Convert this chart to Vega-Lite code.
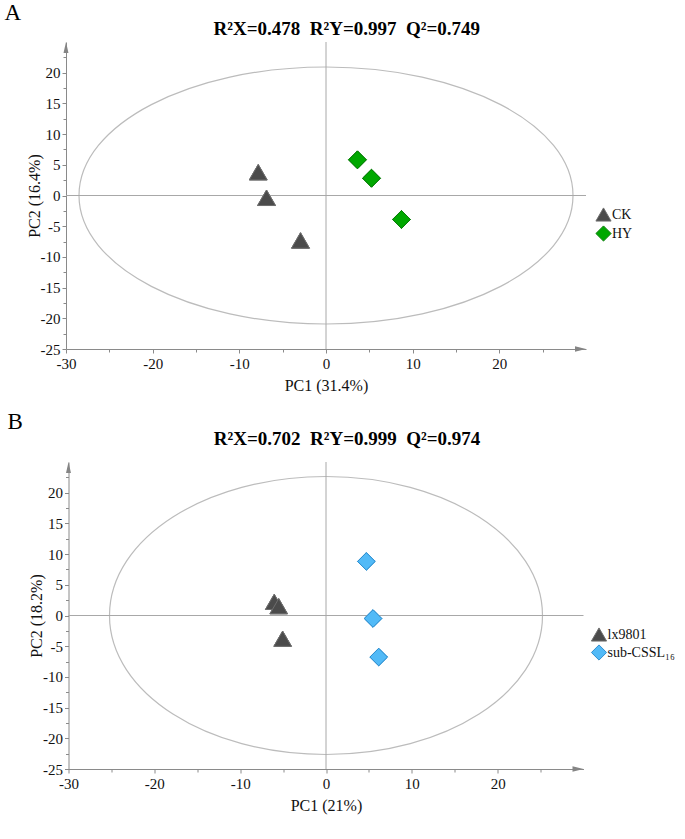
{
  "$schema": "https://vega.github.io/schema/vega-lite/v6.json",
  "background": "white",
  "padding": {"left": 4, "top": 1, "right": 5, "bottom": 5},
  "datasets": {
    "a": [
      {"group": "CK", "pc1": -7.82, "pc2": 3.79},
      {"group": "CK", "pc1": -6.86, "pc2": -0.37},
      {"group": "CK", "pc1": -2.94, "pc2": -7.32},
      {"group": "HY", "pc1": 3.63, "pc2": 5.81},
      {"group": "HY", "pc1": 5.25, "pc2": 2.81},
      {"group": "HY", "pc1": 8.71, "pc2": -3.9}
    ],
    "b": [
      {"group": "lx9801", "pc1": -6.03, "pc2": 2.22},
      {"group": "lx9801", "pc1": -5.51, "pc2": 1.51},
      {"group": "lx9801", "pc1": -5.05, "pc2": -3.78},
      {"group": "sub-CSSL₁₆", "pc1": 4.7, "pc2": 8.81},
      {"group": "sub-CSSL₁₆", "pc1": 5.48, "pc2": -0.49},
      {"group": "sub-CSSL₁₆", "pc1": 6.14, "pc2": -6.77}
    ]
  },
  "bounds": "flush",
  "center": true,
  "spacing": 113,
  "vconcat": [
    {
      "width": 520,
      "height": 307,
      "layer": [
        {
          "data": {"name": "a"},
          "mark": {"type": "point", "filled": true, "opacity": 1, "size": 320, "strokeWidth": 1},
          "encoding": {
            "x": {"field": "pc1", "type": "quantitative", "scale": {"domain": [-30, 30], "nice": false, "zero": false},
              "axis": {"title": "PC1 (31.4%)", "values": [-30, -25, -20, -15, -10, -5, 0, 5, 10, 15, 20, 25], "tickCount": 30, "labelExpr": "datum.value % 10 == 0 ? '' + datum.value : ''", "grid": false, "domainColor": "#8a8a8a", "tickColor": "#8a8a8a", "tickSize": {"condition": {"test": "datum.value % 10 == 0", "value": 4}, "value": 3}, "labelFont": "Liberation Serif", "labelFontSize": 15, "labelColor": "#111111", "labelPadding": 3, "labelFlush": false, "labelOverlap": false, "titleFont": "Liberation Serif", "titleFontSize": 16, "titleFontWeight": "normal", "titleColor": "#111111", "titlePadding": 6}},
            "y": {"field": "pc2", "type": "quantitative", "scale": {"domain": [-25, 25], "nice": false, "zero": false},
              "axis": {"title": "PC2 (16.4%)", "values": [-25, -22.5, -20, -17.5, -15, -12.5, -10, -7.5, -5, -2.5, 0, 2.5, 5, 7.5, 10, 12.5, 15, 17.5, 20, 22.5], "tickCount": 30, "labelExpr": "datum.value % 5 == 0 ? '' + datum.value : ''", "grid": false, "domainColor": "#8a8a8a", "tickColor": "#8a8a8a", "tickSize": {"condition": {"test": "datum.value % 5 == 0", "value": 4}, "value": 3}, "labelFont": "Liberation Serif", "labelFontSize": 15, "labelColor": "#111111", "labelPadding": 2, "labelFlush": false, "labelOverlap": false, "titleFont": "Liberation Serif", "titleFontSize": 16, "titleFontWeight": "normal", "titleColor": "#111111", "titlePadding": -2}},
            "shape": {"field": "group", "type": "nominal", "scale": {"domain": ["CK", "HY"], "range": ["triangle-up", "diamond"]},
              "legend": {"orient": "none", "legendX": 529, "legendY": 164, "title": null, "direction": "vertical", "padding": 0, "labelFont": "Liberation Serif", "labelFontSize": 14, "labelColor": "#111111", "symbolSize": 230, "symbolStrokeWidth": 1, "rowPadding": -1, "labelOffset": 0}},
            "fill": {"field": "group", "type": "nominal", "scale": {"domain": ["CK", "HY"], "range": ["#4b4b4b", "#00a800"]},
              "legend": {"orient": "none", "legendX": 529, "legendY": 164, "title": null, "direction": "vertical", "padding": 0, "labelFont": "Liberation Serif", "labelFontSize": 14, "labelColor": "#111111", "symbolSize": 230, "symbolStrokeWidth": 1, "rowPadding": -1, "labelOffset": 0}},
            "stroke": {"field": "group", "type": "nominal", "scale": {"domain": ["CK", "HY"], "range": ["#6e6e6e", "#0a7d0a"]},
              "legend": {"orient": "none", "legendX": 529, "legendY": 164, "title": null, "direction": "vertical", "padding": 0, "labelFont": "Liberation Serif", "labelFontSize": 14, "labelColor": "#111111", "symbolSize": 230, "symbolStrokeWidth": 1, "rowPadding": -1, "labelOffset": 0}}
          }
        },
        {
          "data": {"values": [{}]},
          "mark": {"type": "point", "shape": "M-1,0C-1,-0.2873,-0.5523,-0.5202,0,-0.5202C0.5523,-0.5202,1,-0.2873,1,0C1,0.2873,0.5523,0.5202,0,0.5202C-0.5523,0.5202,-1,0.2873,-1,0Z", "size": 244036, "filled": false, "stroke": "#bcbcbc", "strokeWidth": 1.2, "opacity": 1},
          "encoding": {
            "x": {"datum": 0, "type": "quantitative"},
            "y": {"datum": 0, "type": "quantitative"}
          }
        },
        {
          "data": {"values": [{}]},
          "mark": {"type": "rule", "color": "#a8a8a8", "strokeWidth": 1},
          "encoding": {"x": {"datum": 0, "type": "quantitative"}}
        },
        {
          "data": {"values": [{}]},
          "mark": {"type": "rule", "color": "#a8a8a8", "strokeWidth": 1},
          "encoding": {"y": {"datum": 0, "type": "quantitative"}}
        },
        {
          "data": {"name": "a"},
          "mark": {"type": "point", "filled": true, "opacity": 1, "size": 320, "strokeWidth": 1},
          "encoding": {
            "x": {"field": "pc1", "type": "quantitative"},
            "y": {"field": "pc2", "type": "quantitative"},
            "shape": {"field": "group", "type": "nominal"},
            "fill": {"field": "group", "type": "nominal"},
            "stroke": {"field": "group", "type": "nominal"}
          }
        },
        {
          "data": {"values": [{}]},
          "mark": {"type": "point", "shape": "M0,0L-2,-0.5L-2,0.5Z", "size": 121, "filled": true, "fill": "#858585", "strokeWidth": 0, "opacity": 1},
          "encoding": {
            "x": {"datum": 30, "type": "quantitative"},
            "y": {"datum": -25, "type": "quantitative"}
          }
        },
        {
          "data": {"values": [{}]},
          "mark": {"type": "point", "shape": "M0,0L-0.45,2L0.45,2Z", "size": 121, "filled": true, "fill": "#858585", "strokeWidth": 0, "opacity": 1},
          "encoding": {
            "x": {"datum": -30, "type": "quantitative"},
            "y": {"datum": 25, "type": "quantitative"}
          }
        },
        {
          "data": {"values": [{}]},
          "mark": {"type": "text", "text": "A", "font": "Liberation Serif", "fontSize": 23, "align": "left", "baseline": "alphabetic", "color": "#000000"},
          "encoding": {
            "x": {"datum": -37.1, "type": "quantitative"},
            "y": {"datum": 28.6, "type": "quantitative"}
          }
        },
        {
          "data": {"values": [{}]},
          "mark": {"type": "text", "text": "R²X=0.478 \u00a0R²Y=0.997 \u00a0Q²=0.749", "font": "Liberation Serif", "fontSize": 19, "fontWeight": "bold", "align": "center", "baseline": "alphabetic", "color": "#000000"},
          "encoding": {
            "x": {"datum": 2.4, "type": "quantitative"},
            "y": {"datum": 26.14, "type": "quantitative"}
          }
        }
      ]
    },
    {
      "width": 515,
      "height": 307,
      "layer": [
        {
          "data": {"name": "b"},
          "mark": {"type": "point", "filled": true, "opacity": 1, "size": 310, "strokeWidth": 1},
          "encoding": {
            "x": {"field": "pc1", "type": "quantitative", "scale": {"domain": [-30, 30], "nice": false, "zero": false},
              "axis": {"title": "PC1 (21%)", "values": [-30, -25, -20, -15, -10, -5, 0, 5, 10, 15, 20, 25], "tickCount": 30, "labelExpr": "datum.value % 10 == 0 ? '' + datum.value : ''", "grid": false, "domainColor": "#8a8a8a", "tickColor": "#8a8a8a", "tickSize": {"condition": {"test": "datum.value % 10 == 0", "value": 4}, "value": 3}, "labelFont": "Liberation Serif", "labelFontSize": 15, "labelColor": "#111111", "labelPadding": 3, "labelFlush": false, "labelOverlap": false, "titleFont": "Liberation Serif", "titleFontSize": 16, "titleFontWeight": "normal", "titleColor": "#111111", "titlePadding": 6}},
            "y": {"field": "pc2", "type": "quantitative", "scale": {"domain": [-25, 25], "nice": false, "zero": false},
              "axis": {"title": "PC2 (18.2%)", "values": [-25, -22.5, -20, -17.5, -15, -12.5, -10, -7.5, -5, -2.5, 0, 2.5, 5, 7.5, 10, 12.5, 15, 17.5, 20, 22.5], "tickCount": 30, "labelExpr": "datum.value % 5 == 0 ? '' + datum.value : ''", "grid": false, "domainColor": "#8a8a8a", "tickColor": "#8a8a8a", "tickSize": {"condition": {"test": "datum.value % 5 == 0", "value": 4}, "value": 3}, "labelFont": "Liberation Serif", "labelFontSize": 15, "labelColor": "#111111", "labelPadding": 2, "labelFlush": false, "labelOverlap": false, "titleFont": "Liberation Serif", "titleFontSize": 16, "titleFontWeight": "normal", "titleColor": "#111111", "titlePadding": -2}},
            "shape": {"field": "group", "type": "nominal", "scale": {"domain": ["lx9801", "sub-CSSL₁₆"], "range": ["triangle-up", "diamond"]},
              "legend": {"orient": "none", "legendX": 522, "legendY": 164, "title": null, "direction": "vertical", "padding": 0, "labelFont": "Liberation Serif", "labelFontSize": 14, "labelColor": "#111111", "symbolSize": 230, "symbolStrokeWidth": 1, "rowPadding": -3, "labelOffset": 0}},
            "fill": {"field": "group", "type": "nominal", "scale": {"domain": ["lx9801", "sub-CSSL₁₆"], "range": ["#4b4b4b", "#52baf7"]},
              "legend": {"orient": "none", "legendX": 522, "legendY": 164, "title": null, "direction": "vertical", "padding": 0, "labelFont": "Liberation Serif", "labelFontSize": 14, "labelColor": "#111111", "symbolSize": 230, "symbolStrokeWidth": 1, "rowPadding": -3, "labelOffset": 0}},
            "stroke": {"field": "group", "type": "nominal", "scale": {"domain": ["lx9801", "sub-CSSL₁₆"], "range": ["#6e6e6e", "#2f8fd0"]},
              "legend": {"orient": "none", "legendX": 522, "legendY": 164, "title": null, "direction": "vertical", "padding": 0, "labelFont": "Liberation Serif", "labelFontSize": 14, "labelColor": "#111111", "symbolSize": 230, "symbolStrokeWidth": 1, "rowPadding": -3, "labelOffset": 0}}
          }
        },
        {
          "data": {"values": [{}]},
          "mark": {"type": "point", "shape": "M-1,0C-1,-0.3567,-0.5523,-0.642,0,-0.642C0.5523,-0.642,1,-0.3567,1,0C1,0.3567,0.5523,0.642,0,0.642C-0.5523,0.642,-1,0.3567,-1,0Z", "size": 187489, "filled": false, "stroke": "#bcbcbc", "strokeWidth": 1.2, "opacity": 1},
          "encoding": {
            "x": {"datum": 0, "type": "quantitative"},
            "y": {"datum": 0, "type": "quantitative"}
          }
        },
        {
          "data": {"values": [{}]},
          "mark": {"type": "rule", "color": "#a8a8a8", "strokeWidth": 1},
          "encoding": {"x": {"datum": 0, "type": "quantitative"}}
        },
        {
          "data": {"values": [{}]},
          "mark": {"type": "rule", "color": "#a8a8a8", "strokeWidth": 1},
          "encoding": {"y": {"datum": 0, "type": "quantitative"}}
        },
        {
          "data": {"name": "b"},
          "mark": {"type": "point", "filled": true, "opacity": 1, "size": 310, "strokeWidth": 1},
          "encoding": {
            "x": {"field": "pc1", "type": "quantitative"},
            "y": {"field": "pc2", "type": "quantitative"},
            "shape": {"field": "group", "type": "nominal"},
            "fill": {"field": "group", "type": "nominal"},
            "stroke": {"field": "group", "type": "nominal"}
          }
        },
        {
          "data": {"values": [{}]},
          "mark": {"type": "point", "shape": "M0,0L-2,-0.5L-2,0.5Z", "size": 121, "filled": true, "fill": "#858585", "strokeWidth": 0, "opacity": 1},
          "encoding": {
            "x": {"datum": 30, "type": "quantitative"},
            "y": {"datum": -25, "type": "quantitative"}
          }
        },
        {
          "data": {"values": [{}]},
          "mark": {"type": "point", "shape": "M0,0L-0.45,2L0.45,2Z", "size": 121, "filled": true, "fill": "#858585", "strokeWidth": 0, "opacity": 1},
          "encoding": {
            "x": {"datum": -30, "type": "quantitative"},
            "y": {"datum": 25, "type": "quantitative"}
          }
        },
        {
          "data": {"values": [{}]},
          "mark": {"type": "text", "text": "B", "font": "Liberation Serif", "fontSize": 23, "align": "left", "baseline": "alphabetic", "color": "#000000"},
          "encoding": {
            "x": {"datum": -37.1, "type": "quantitative"},
            "y": {"datum": 30.3, "type": "quantitative"}
          }
        },
        {
          "data": {"values": [{}]},
          "mark": {"type": "text", "text": "R²X=0.702 \u00a0R²Y=0.999 \u00a0Q²=0.974", "font": "Liberation Serif", "fontSize": 19, "fontWeight": "bold", "align": "center", "baseline": "alphabetic", "color": "#000000"},
          "encoding": {
            "x": {"datum": 2.45, "type": "quantitative"},
            "y": {"datum": 27.85, "type": "quantitative"}
          }
        }
      ]
    }
  ],
  "resolve": {
    "scale": {"x": "independent", "y": "independent", "fill": "independent", "stroke": "independent", "shape": "independent"},
    "legend": {"fill": "independent", "stroke": "independent", "shape": "independent"}
  },
  "config": {"view": {"stroke": null}, "font": "Liberation Serif", "axis": {"labelOverlap": false, "labelBound": false}}
}
